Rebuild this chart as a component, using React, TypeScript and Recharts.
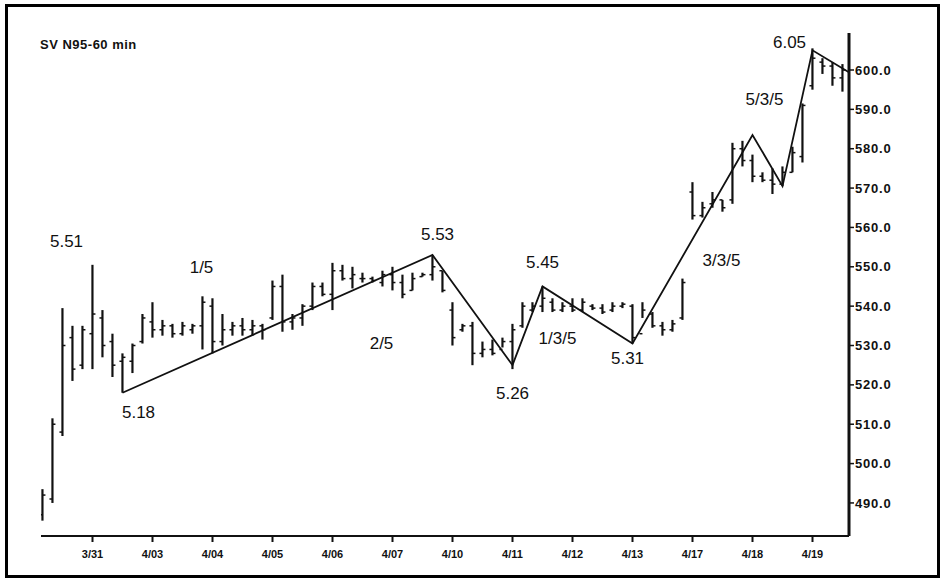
import { ComposedChart, Bar, Line, Scatter, XAxis, YAxis } from "recharts";

// one bar per hour, six per session
const highs = [
  493.5, 511.5, 539.5, 535, 535, 550.5, 539, 533, 528, 530.5,
  538, 541, 536.5, 535.5, 536, 535.5, 542.5, 542, 538, 536,
  537, 536.5, 535.5, 546.5, 548, 538, 540.5, 546, 546, 551,
  550.5, 550, 548.5, 547.5, 549, 550, 548, 548.5, 548.5, 553,
  549, 541, 535.5, 536, 531, 531.5, 532, 535.5, 541, 541,
  545, 542, 541, 542, 542, 540.5, 540.5, 541, 541, 540.5,
  541, 538.5, 536, 536.5, 547, 571.5, 566.5, 569, 567, 581.5,
  582, 578.5, 574, 575, 575.5, 580.5, 591.5, 605.5, 603, 602,
  601.5,
];
const lows = [
  485.5, 490, 507, 521, 524, 524, 527, 522, 518, 523,
  530.5, 532, 532.5, 532, 532.5, 533, 529, 528, 530, 532.5,
  532.5, 532.5, 531.5, 536.5, 533.5, 534, 535, 539, 542.5, 539,
  546.5, 544.5, 546, 546, 545, 544, 542, 544, 547.5, 546.5,
  543.5, 530, 533.5, 525, 527, 527.5, 529.5, 524, 534.5, 538.5,
  538.5, 538.5, 538.5, 538.5, 538.5, 539, 538, 538.5, 539.5, 530.5,
  537, 534.5, 532.5, 533.5, 536.5, 562, 562.5, 565, 564, 566,
  575.5, 571.5, 571.5, 568.5, 570.5, 574, 576.5, 595, 599, 596,
  594.5,
];
const opens = [
  487, 491, 508, 532, 525, 533, 537, 531, 526, 526,
  531, 536, 534, 535, 533, 534, 535, 540, 531, 534,
  535, 534, 535, 537, 545, 536, 537, 540, 545, 543,
  549, 547, 547, 547, 546, 548, 546, 544, 547.5, 548,
  549, 539, 534, 535, 528, 529, 529, 531, 535, 539,
  540, 541, 539, 540, 539, 540, 539.5, 539, 540, 540,
  533, 538, 535, 534, 537, 569, 563, 566, 567, 567,
  580, 577, 573, 572, 571, 574, 578, 596, 602, 601,
  598,
];
const closes = [
  492, 510, 530, 524, 534, 538, 530, 525, 527, 530,
  537, 534, 535, 533, 535, 535, 541, 531, 534, 535,
  534, 535, 534, 545, 536, 537, 540, 545, 543, 549,
  547, 548, 547, 546.5, 548, 546, 543, 547, 548, 550,
  544, 532, 535, 528, 529, 528, 531, 534, 540, 540,
  542, 539, 540, 539, 541, 539.5, 538.5, 540, 540.5, 532,
  539, 535, 534, 535.5, 546, 563, 565, 567, 565, 580,
  577, 573, 572, 571, 574, 579, 591, 603, 601, 598,
  600,
];

const dayTicks = [5, 11, 17, 23, 29, 35, 41, 47, 53, 59, 65, 71, 77];
const dayLabels = ["3/31", "4/03", "4/04", "4/05", "4/06", "4/07", "4/10", "4/11", "4/12", "4/13", "4/17", "4/18", "4/19"];
const priceTicks = [490, 500, 510, 520, 530, 540, 550, 560, 570, 580, 590, 600];

// wave count pivots
const waveIdx = [8, 39, 47, 50, 59, 71, 74, 77, 80.6];
const waveVal = [518, 553, 525, 545, 530.5, 583.5, 570.5, 605, 599.5];

const noteText = ["5.51", "1/5", "5.18", "2/5", "5.53", "5.45", "1/3/5", "5.26", "5.31", "3/3/5", "5/3/5", "6.05"];
const noteIdx = [2.4, 15.9, 9.6, 33.9, 39.5, 50, 51.5, 47, 58.5, 67.9, 72.2, 74.7];
const noteVal = [556.3, 549.7, 513.0, 530.4, 558.3, 551, 531.9, 517.9, 526.6, 551.7, 592.6, 606.9];

const bars = highs.map((h, i) => ({
  i,
  range: [lows[i], h],
  open: opens[i],
  close: closes[i],
}));
const wave = waveIdx.map((i, k) => ({ i, wave: waveVal[k] }));
const notes = noteText.map((text, k) => ({ i: noteIdx[k], v: noteVal[k], text }));

const ink = "#111";

function OhlcBar(props: any) {
  const { x, y, width, height, payload } = props;
  if (x == null || y == null) return null;
  const top = height < 0 ? y + height : y;
  const h = Math.abs(height);
  const hi = payload.range[1];
  const lo = payload.range[0];
  const span = hi - lo || 1;
  const cx = x + width / 2;
  const oy = top + ((hi - payload.open) / span) * h;
  const cy = top + ((hi - payload.close) / span) * h;
  return (
    <g stroke={ink}>
      <line x1={cx} x2={cx} y1={top} y2={top + h} strokeWidth={2.2} />
      <line x1={cx - 3} x2={cx} y1={oy} y2={oy} strokeWidth={1.5} />
      <line x1={cx} x2={cx + 3} y1={cy} y2={cy} strokeWidth={1.5} />
    </g>
  );
}

function Note(props: any) {
  const { cx, cy, payload } = props;
  return (
    <text
      x={cx}
      y={cy}
      textAnchor="middle"
      dominantBaseline="central"
      fontSize={17}
      fontWeight={500}
      fontFamily="Liberation Sans, Arial, sans-serif"
      fill={ink}
    >
      {payload.text}
    </text>
  );
}

export default function App() {
  return (
    <div style={{ position: "absolute", left: 0, top: 0, width: 940, height: 578, background: "#fff" }}>
      <ComposedChart
        width={940}
        height={578}
        data={bars}
        margin={{ top: 33, right: 31, bottom: 12, left: 41 }}
      >
        <XAxis
          dataKey="i"
          type="number"
          domain={[-0.15, 80.65]}
          allowDataOverflow
          ticks={dayTicks}
          interval={0}
          tickFormatter={(v: number) => dayLabels[dayTicks.indexOf(v)] ?? ""}
          height={30}
          axisLine={{ stroke: ink, strokeWidth: 2 }}
          tickLine={{ stroke: ink, strokeWidth: 2 }}
          tickSize={6}
          tickMargin={8}
          tick={{ fill: ink, fontSize: 11, fontWeight: 700, fontFamily: "Liberation Sans, Arial, sans-serif" }}
        />
        <YAxis
          orientation="right"
          type="number"
          domain={[481.6, 609.4]}
          allowDataOverflow
          ticks={priceTicks}
          interval={0}
          tickFormatter={(v: number) => v.toFixed(1)}
          width={60}
          axisLine={{ stroke: ink, strokeWidth: 3 }}
          tickLine={{ stroke: ink, strokeWidth: 1.5 }}
          tickSize={5}
          tickMargin={1}
          tick={{ fill: ink, fontSize: 13, fontWeight: 700, letterSpacing: 0.8, fontFamily: "Liberation Sans, Arial, sans-serif" }}
        />
        <Bar dataKey="range" barSize={6} shape={OhlcBar} isAnimationActive={false} />
        <Line
          data={wave}
          dataKey="wave"
          type="linear"
          stroke={ink}
          strokeWidth={1.8}
          dot={false}
          connectNulls
          isAnimationActive={false}
        />
        <Scatter data={notes} dataKey="v" shape={Note} isAnimationActive={false} />
      </ComposedChart>
      <div
        style={{
          position: "absolute",
          left: 40,
          top: 37,
          fontFamily: "Liberation Sans, Arial, sans-serif",
          fontSize: 13,
          fontWeight: 700,
          letterSpacing: 0.5,
          color: ink,
        }}
      >
        SV N95-60 min
      </div>
      <div
        style={{
          position: "absolute",
          left: 5,
          top: 4,
          width: 929,
          height: 568,
          border: "3px solid #000",
          pointerEvents: "none",
        }}
      />
    </div>
  );
}
